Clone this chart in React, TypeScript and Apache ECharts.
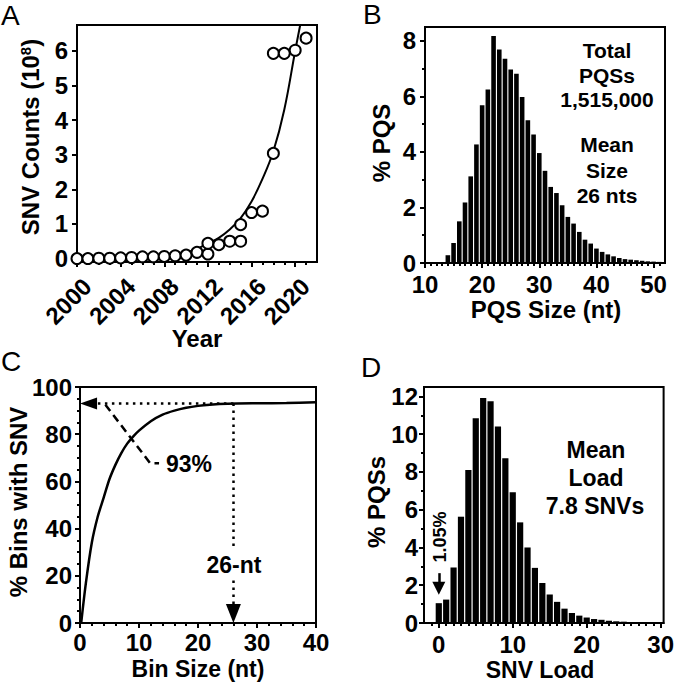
import React, { useEffect, useRef } from "react";
import * as echarts from "echarts";

const FF = '"Liberation Sans", Arial, Helvetica, sans-serif';

// ---------- Panel A : SNV counts per year ----------
const yearsA = [2000, 2001, 2002, 2003, 2004, 2005, 2006, 2007, 2008, 2009, 2010, 2011, 2012, 2012, 2013, 2014, 2015, 2015, 2016, 2017, 2018, 2018, 2019, 2020, 2021];
const countsA = [0, 0, 0.01, 0.01, 0.02, 0.03, 0.05, 0.05, 0.06, 0.08, 0.1, 0.18, 0.13, 0.44, 0.4, 0.5, 0.5, 0.98, 1.33, 1.37, 3.04, 5.93, 5.93, 6.02, 6.37];
const fitYearsA = [2000, 2002, 2004, 2006, 2008, 2009, 2010, 2011, 2012, 2013, 2014, 2015, 2016, 2017, 2018, 2019, 2020, 2020.46];
const fitCountsA = [0.01, 0.02, 0.03, 0.05, 0.08, 0.11, 0.17, 0.28, 0.44, 0.6, 0.84, 1.17, 1.65, 2.3, 3.1, 4.3, 6.0, 6.75];
const yearLabelsA = [2000, 2004, 2008, 2012, 2016, 2020];
const yearMinorA = [2000, 2001, 2002, 2003, 2004, 2005, 2006, 2007, 2008, 2009, 2010, 2011, 2012, 2013, 2014, 2015, 2016, 2017, 2018, 2019, 2020, 2021];
const countTicksA = [0, 1, 2, 3, 4, 5, 6];

// ---------- Panel B : PQS size distribution ----------
const sizesB = [11, 12, 13, 14, 15, 16, 17, 18, 19, 20, 21, 22, 23, 24, 25, 26, 27, 28, 29, 30, 31, 32, 33, 34, 35, 36, 37, 38, 39, 40, 41, 42, 43, 44, 45, 46, 47, 48, 49, 50, 51];
const pctB = [0.02, 0.02, 0.02, 0.28, 0.72, 1.5, 2.18, 3.12, 4.27, 5.68, 6.25, 8.18, 7.69, 7.36, 6.97, 6.82, 5.98, 5.14, 4.63, 3.96, 3.32, 2.74, 2.52, 2.08, 1.66, 1.42, 1.12, 0.84, 0.7, 0.52, 0.4, 0.31, 0.24, 0.18, 0.14, 0.12, 0.1, 0.08, 0.06, 0.05, 0.04];
const sizeLabelsB = [10, 20, 30, 40, 50];
const sizeMinorB = [10, 11, 12, 13, 14, 15, 16, 17, 18, 19, 20, 21, 22, 23, 24, 25, 26, 27, 28, 29, 30, 31, 32, 33, 34, 35, 36, 37, 38, 39, 40, 41, 42, 43, 44, 45, 46, 47, 48, 49, 50, 51];
const pctLabelsB = [0, 2, 4, 6, 8];
const pctMinorB = [0, 1, 2, 3, 4, 5, 6, 7, 8];

// ---------- Panel C : % bins with SNV ----------
const binSizeC = [0.2, 1, 2, 3, 4, 5, 6, 7, 8, 9, 10, 12, 14, 16, 18, 20, 22, 25, 30, 35, 40];
const binPctC = [0, 17, 34, 45, 53, 61, 67, 72, 76, 79, 81.5, 85.5, 88.3, 90, 91.2, 92, 92.5, 92.9, 93.1, 93.2, 93.5];
const binLabelsC = [0, 10, 20, 30, 40];
const binMinorC = [0, 2, 4, 6, 8, 10, 12, 14, 16, 18, 20, 22, 24, 26, 28, 30, 32, 34, 36, 38, 40];
const pctLabelsC = [0, 20, 40, 60, 80, 100];
const pctMinorC = [0, 5, 10, 15, 20, 25, 30, 35, 40, 45, 50, 55, 60, 65, 70, 75, 80, 85, 90, 95, 100];
const plateauC = 93;
const meanSizeC = 26;
const dashX = [4.3, 11.9, 13.4];
const dashY = [92.5, 67.7, 67.7];

// ---------- Panel D : SNV load ----------
const loadD = [0, 1, 2, 3, 4, 5, 6, 7, 8, 9, 10, 11, 12, 13, 14, 15, 16, 17, 18, 19, 20, 21, 22, 23, 24, 25, 26, 27, 28];
const pctD = [1.05, 1.24, 2.94, 5.63, 8.1, 10.85, 11.92, 11.74, 10.41, 8.73, 6.92, 5.33, 4.0, 2.92, 2.12, 1.51, 1.12, 0.76, 0.53, 0.39, 0.29, 0.21, 0.17, 0.12, 0.09, 0.07, 0.05, 0.03, 0.02];
const loadLabelsD = [0, 10, 20, 30];
const loadMinorD = [-1, 0, 1, 2, 3, 4, 5, 6, 7, 8, 9, 10, 11, 12, 13, 14, 15, 16, 17, 18, 19, 20, 21, 22, 23, 24, 25, 26, 27, 28, 29, 30];
const pctLabelsD = [0, 2, 4, 6, 8, 10, 12];
const pctMinorD = [0, 1, 2, 3, 4, 5, 6, 7, 8, 9, 10, 11, 12];

const BLACK = "#000";
const TICK_FS = 24;
const TITLE_FS = 23;

function majorAxis(gridIndex: number, min: number, max: number, labels: number[], margin: number, extra: any = {}) {
  return {
    type: "value",
    gridIndex,
    min,
    max,
    axisLine: { show: true, onZero: false, lineStyle: { color: BLACK, width: 2 } },
    axisTick: { show: true, customValues: labels, length: 5, lineStyle: { color: BLACK, width: 2 } },
    axisLabel: {
      show: true,
      customValues: labels,
      color: BLACK,
      fontFamily: FF,
      fontWeight: "bold",
      fontSize: TICK_FS,
      lineHeight: 19,
      margin,
      formatter: (v: number) => String(v),
      ...(extra.axisLabel || {}),
    },
    splitLine: { show: false },
    ...(extra.position ? { position: extra.position } : {}),
  };
}

function minorAxis(gridIndex: number, min: number, max: number, ticks: number[], position: string) {
  return {
    type: "value",
    gridIndex,
    min,
    max,
    position,
    axisLine: { show: false, onZero: false },
    axisTick: { show: true, customValues: ticks, length: 3, lineStyle: { color: BLACK, width: 2 } },
    axisLabel: { show: false },
    splitLine: { show: false },
  };
}

const boldText = (text: string, x: number, y: number, size = 22, rotation = 0, weight = "bold") => ({
  type: "text",
  x,
  y,
  rotation,
  style: {
    text,
    fontFamily: FF,
    fontWeight: weight,
    fontSize: size,
    lineHeight: Math.round(size * 0.85),
    fill: BLACK,
    align: "center",
    verticalAlign: "middle",
  },
  silent: true,
});

const letter = (text: string, x: number, y: number) => ({
  type: "text",
  x,
  y,
  style: { text, fontFamily: FF, fontWeight: "normal", fontSize: 28, fill: BLACK, align: "left", verticalAlign: "middle" },
  silent: true,
});

export default function App() {
  const ref = useRef<HTMLDivElement>(null);

  useEffect(() => {
    if (!ref.current) return;
    const chart = echarts.init(ref.current, undefined, { renderer: "svg" });

    const gridStyle = { show: true, borderColor: BLACK, borderWidth: 2, backgroundColor: "transparent", containLabel: false };

    const option: any = {
      animation: false,
      backgroundColor: "#fff",
      grid: [
        { ...gridStyle, left: 77, top: 25, width: 240, height: 237 },
        { ...gridStyle, left: 425, top: 27, width: 240, height: 236 },
        { ...gridStyle, left: 80, top: 387, width: 236, height: 236 },
        { ...gridStyle, left: 424, top: 387, width: 240, height: 236 },
      ],
      xAxis: [
        majorAxis(0, 2000, 2022, yearLabelsA, 10, {
          position: "bottom",
          axisLabel: { rotate: 45, verticalAlign: "top", padding: [5, 0, 0, 0] },
        }),
        minorAxis(0, 2000, 2022, yearMinorA, "bottom"),
        majorAxis(1, 10, 52, sizeLabelsB, 12, { position: "bottom" }),
        minorAxis(1, 10, 52, sizeMinorB, "bottom"),
        majorAxis(2, 0, 40, binLabelsC, 10, { position: "bottom" }),
        minorAxis(2, 0, 40, binMinorC, "bottom"),
        majorAxis(3, -2, 30.4, loadLabelsD, 12, { position: "bottom" }),
        minorAxis(3, -2, 30.4, loadMinorD, "bottom"),
      ],
      yAxis: [
        majorAxis(0, -0.1, 6.75, countTicksA, 9, { position: "left" }),
        majorAxis(1, 0, 8.5, pctLabelsB, 9, { position: "left" }),
        minorAxis(1, 0, 8.5, pctMinorB, "left"),
        majorAxis(2, 0, 100, pctLabelsC, 8, { position: "left" }),
        minorAxis(2, 0, 100, pctMinorC, "left"),
        majorAxis(3, 0, 12.5, pctLabelsD, 6, { position: "left" }),
        minorAxis(3, 0, 12.5, pctMinorD, "left"),
      ],
      series: [
        {
          type: "line",
          xAxisIndex: 0,
          yAxisIndex: 0,
          data: fitYearsA.map((x, i) => [x, fitCountsA[i]]),
          smooth: 0.4,
          showSymbol: false,
          clip: true,
          lineStyle: { color: BLACK, width: 2 },
          z: 2,
          silent: true,
        },
        {
          type: "scatter",
          xAxisIndex: 0,
          yAxisIndex: 0,
          data: yearsA.map((x, i) => [x, countsA[i]]),
          symbol: "circle",
          symbolSize: 11,
          clip: false,
          itemStyle: { color: "#fff", borderColor: BLACK, borderWidth: 2, opacity: 1 },
          z: 3,
          silent: true,
        },
        {
          type: "bar",
          xAxisIndex: 2,
          yAxisIndex: 1,
          data: sizesB.map((x, i) => [x, pctB[i]]),
          barWidth: 4.6,
          itemStyle: { color: BLACK },
          silent: true,
        },
        {
          type: "line",
          xAxisIndex: 4,
          yAxisIndex: 3,
          data: binSizeC.map((x, i) => [x, binPctC[i]]),
          smooth: 0.3,
          showSymbol: false,
          lineStyle: { color: BLACK, width: 2.5 },
          z: 3,
          silent: true,
          markLine: {
            silent: true,
            animation: false,
            label: { show: false },
            symbol: ["none", "triangle"],
            lineStyle: { color: BLACK, width: 2.5, type: [2.5, 4.5] },
            data: [
              [
                { coord: [meanSizeC, plateauC], symbol: "none" },
                { coord: [1.45, plateauC], symbol: "triangle", symbolSize: [12, 17] },
              ],
              [
                { coord: [meanSizeC, plateauC], symbol: "none" },
                { coord: [meanSizeC, 32], symbol: "none" },
              ],
              [
                { coord: [meanSizeC, 18], symbol: "none" },
                { coord: [meanSizeC, 4], symbol: "triangle", symbolSize: [15, 19] },
              ],
            ],
          },
        },
        {
          type: "line",
          xAxisIndex: 4,
          yAxisIndex: 3,
          data: dashX.map((x, i) => [x, dashY[i]]),
          showSymbol: false,
          lineStyle: { color: BLACK, width: 2.5, type: [8, 5] },
          z: 2,
          silent: true,
        },
        {
          type: "bar",
          xAxisIndex: 6,
          yAxisIndex: 5,
          data: loadD.map((x, i) => [x, pctD[i]]),
          barWidth: 6.2,
          itemStyle: { color: BLACK },
          silent: true,
          markLine: {
            silent: true,
            animation: false,
            label: { show: false },
            symbol: ["none", "triangle"],
            symbolSize: [13, 13],
            lineStyle: { color: BLACK, width: 2.5, type: "solid" },
            data: [[{ coord: [0, 2.64] }, { coord: [0, 1.84] }]],
          },
        },
      ],
      graphic: [
        letter("A", 1, 15),
        letter("B", 363, 14),
        letter("C", 1, 361),
        letter("D", 361, 367),
        {
          type: "text",
          x: 30,
          y: 137,
          rotation: Math.PI / 2,
          silent: true,
          style: {
            text: "{a|SNV Counts (10}{s|8}{a|)}",
            fontFamily: FF,
            fontWeight: "bold",
            fontSize: 24,
            fill: BLACK,
            align: "center",
            verticalAlign: "middle",
            rich: {
              a: { fontFamily: FF, fontWeight: "bold", fontSize: 24, fill: BLACK },
              s: { fontFamily: FF, fontWeight: "bold", fontSize: 15, fill: BLACK, verticalAlign: "top" },
            },
          },
        },
        boldText("Year", 197, 338, 24),
        boldText("% PQS", 381, 143, 24, Math.PI / 2),
        boldText("PQS Size (nt)", 546, 309, 24),
        boldText("% Bins with SNV", 18, 502, 24, Math.PI / 2),
        boldText("Bin Size (nt)", 198, 669, TITLE_FS),
        boldText("% PQSs", 376, 502, 24, Math.PI / 2),
        boldText("SNV Load", 540, 670, TITLE_FS),
        boldText("Total", 607, 50, 21),
        boldText("PQSs", 607, 75, 21),
        boldText("1,515,000", 607, 99, 21),
        boldText("Mean", 607, 144, 21),
        boldText("Size", 607, 170, 21),
        boldText("26 nts", 607, 195, 21),
        boldText("93%", 189, 464, 23),
        boldText("26-nt", 234, 565, 23),
        boldText("Mean", 596, 450, 23),
        boldText("Load", 596, 478, 23),
        boldText("7.8 SNVs", 595, 506, 23),
        boldText("1.05%", 439.5, 537, 18, Math.PI / 2, "bold"),
      ],
    };

    chart.setOption(option);
    return () => chart.dispose();
  }, []);

  return (
    <div
      ref={ref}
      style={{ position: "absolute", left: 0, top: 0, width: 677, height: 684, background: "#fff" }}
    />
  );
}
